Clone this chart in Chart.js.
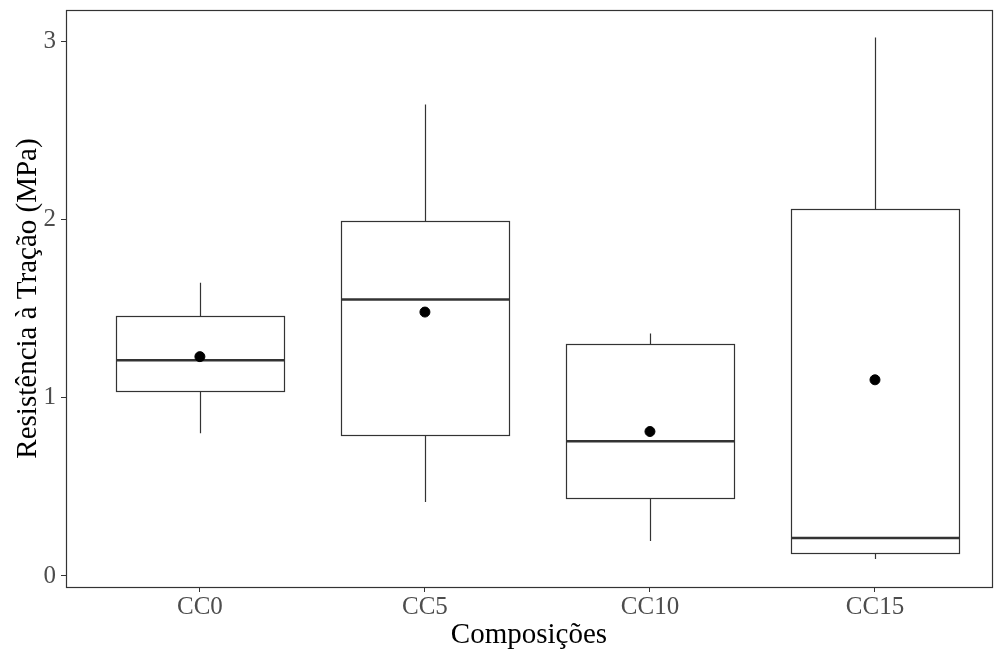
<!DOCTYPE html>
<html>
<head>
<meta charset="utf-8">
<script src="https://cdn.jsdelivr.net/npm/chart.js@4"></script>
<style>
  html, body { margin: 0; padding: 0; background: #fff; }
  #wrap { width: 998px; height: 653px; }
</style>
</head>
<body>
<div id="wrap"><canvas id="chart"></canvas></div>
<script>
const categories = ["CC0", "CC5", "CC10", "CC15"];
const whiskerLow = [0.80, 0.415, 0.196, 0.095];
const q1 = [1.04, 0.79, 0.437, 0.129];
const median = [1.21, 1.55, 0.756, 0.213];
const q3 = [1.457, 1.99, 1.30, 2.06];
const whiskerHigh = [1.645, 2.644, 1.36, 3.02];
const means = [1.23, 1.48, 0.81, 1.10];
const yTicks = [0, 1, 2, 3];

const boxWidth = 0.75;
const serif = "'Liberation Serif', 'Times New Roman', serif";

// draws whiskers, boxes and medians through the chart scales
const boxPlot = {
  id: "boxPlot",
  beforeDatasetsDraw(chart) {
    const { ctx, scales: { x, y } } = chart;
    ctx.save();
    categories.forEach((c, i) => {
      const pos = i + 1;
      const xc = Math.round(x.getPixelForValue(pos)) + 0.5;
      const xl = Math.round(x.getPixelForValue(pos - boxWidth / 2)) + 0.5;
      const xr = Math.round(x.getPixelForValue(pos + boxWidth / 2)) + 0.5;
      const yLo = y.getPixelForValue(whiskerLow[i]);
      const yQ1 = Math.round(y.getPixelForValue(q1[i])) + 0.5;
      const yMed = y.getPixelForValue(median[i]);
      const yQ3 = Math.round(y.getPixelForValue(q3[i])) + 0.5;
      const yHi = y.getPixelForValue(whiskerHigh[i]);

      ctx.strokeStyle = "#333333";
      ctx.lineWidth = 1.2;
      ctx.beginPath();
      ctx.moveTo(xc, yHi);
      ctx.lineTo(xc, yQ3);
      ctx.moveTo(xc, yQ1);
      ctx.lineTo(xc, yLo);
      ctx.stroke();

      ctx.strokeRect(xl, yQ3, xr - xl, yQ1 - yQ3);

      ctx.lineWidth = 2.5;
      ctx.beginPath();
      ctx.moveTo(xl, yMed);
      ctx.lineTo(xr, yMed);
      ctx.stroke();
    });
    ctx.restore();
  },
  afterDraw(chart) {
    const { ctx, chartArea: a } = chart;
    ctx.save();
    ctx.strokeStyle = "#333333";
    ctx.lineWidth = 1.2;
    ctx.strokeRect(a.left + 0.5, a.top + 0.5, a.right - a.left, a.bottom - a.top);
    ctx.restore();
  }
};

new Chart(document.getElementById("chart"), {
  type: "scatter",
  data: {
    datasets: [{
      label: "Média",
      data: means.map((m, i) => ({ x: i + 1, y: m })),
      backgroundColor: "#000000",
      borderColor: "#000000",
      pointRadius: 5,
      pointHoverRadius: 5
    }]
  },
  options: {
    responsive: true,
    maintainAspectRatio: false,
    animation: false,
    layout: { padding: { top: 10, right: 6, left: 0, bottom: 0 } },
    plugins: {
      legend: { display: false },
      tooltip: { enabled: false }
    },
    scales: {
      x: {
        type: "linear",
        min: 0.405,
        max: 4.52,
        afterBuildTicks: (scale) => {
          scale.ticks = categories.map((c, i) => ({ value: i + 1 }));
        },
        afterFit: (scale) => {
          scale.height = 66;
          scale.paddingLeft = 0;
          scale.paddingRight = 0;
        },
        ticks: {
          callback: (v) => categories[v - 1],
          color: "#4d4d4d",
          font: { family: serif, size: 25 },
          padding: 0,
          maxRotation: 0
        },
        grid: {
          drawOnChartArea: false,
          drawTicks: true,
          tickLength: 5,
          color: "#333333"
        },
        border: { display: false },
        title: {
          display: true,
          text: "Composições",
          color: "#000000",
          font: { family: serif, size: 29 },
          padding: { top: 0, bottom: 0 }
        }
      },
      y: {
        min: -0.062,
        max: 3.174,
        afterBuildTicks: (scale) => {
          scale.ticks = yTicks.map((v) => ({ value: v }));
        },
        afterFit: (scale) => {
          scale.width = 66;
          scale.paddingTop = 0;
          scale.paddingBottom = 0;
        },
        ticks: {
          color: "#4d4d4d",
          font: { family: serif, size: 25 },
          padding: 5
        },
        grid: {
          drawOnChartArea: false,
          drawTicks: true,
          tickLength: 5,
          color: "#333333"
        },
        border: { display: false },
        title: {
          display: true,
          text: "Resistência à Tração (MPa)",
          color: "#000000",
          font: { family: serif, size: 29 },
          padding: { top: 11, bottom: 0 }
        }
      }
    }
  },
  plugins: [boxPlot]
});
</script>
</body>
</html>
